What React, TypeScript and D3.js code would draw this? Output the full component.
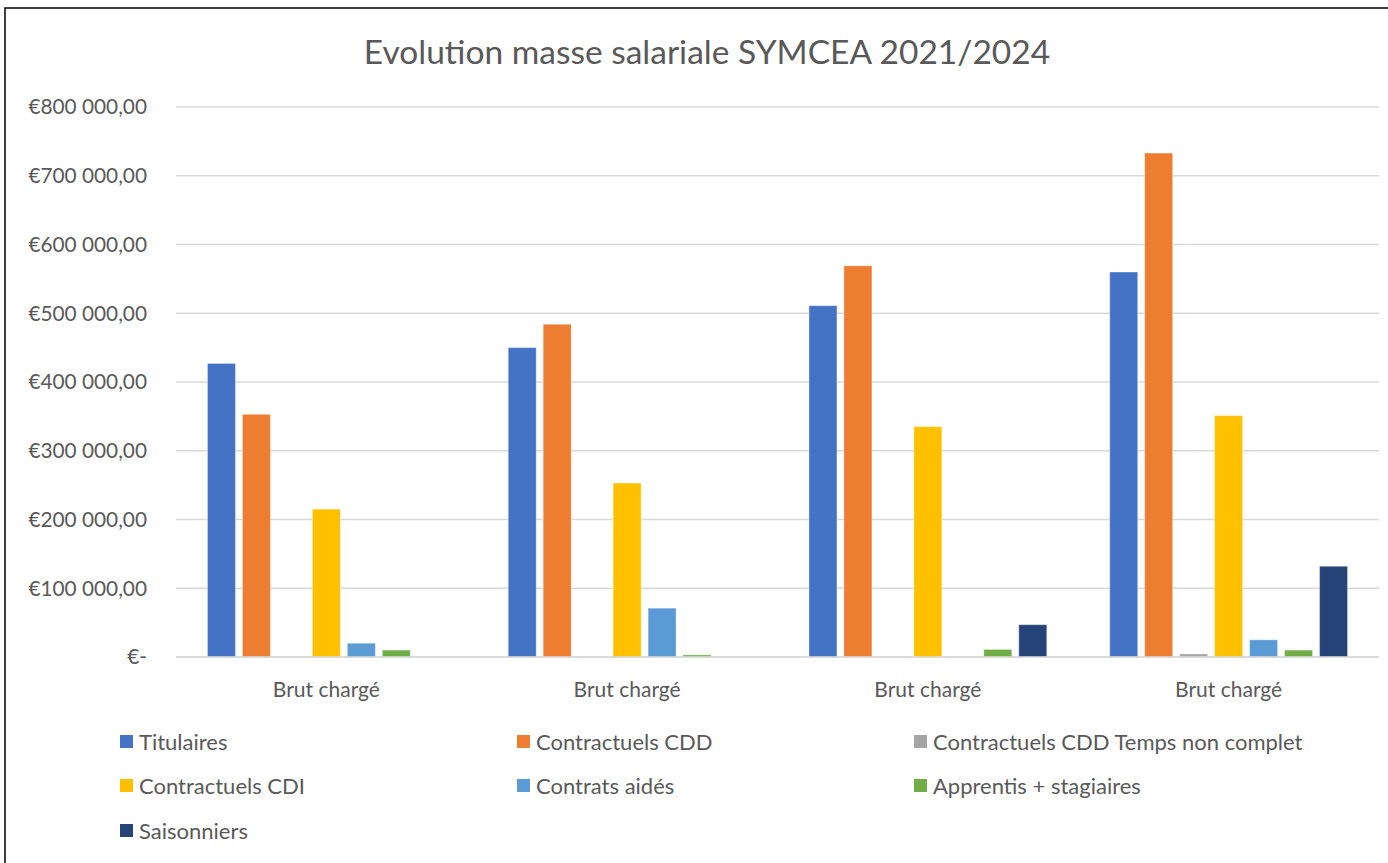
import * as d3 from "d3";
import React from "react";

const categories = ["Brut chargé", "Brut chargé", "Brut chargé", "Brut chargé"];
const seriesNames = [
  "Titulaires",
  "Contractuels CDD",
  "Contractuels CDD Temps non complet",
  "Contractuels CDI",
  "Contrats aidés",
  "Apprentis + stagiaires",
  "Saisonniers",
];
const colors = ["#4472C4", "#ED7D31", "#A5A5A5", "#FFC000", "#5B9BD5", "#70AD47", "#264478"];

// one array per series, one value per category
const titulaires = [427000, 450000, 511000, 560000];
const contractuelsCDD = [353000, 484000, 569000, 733000];
const cddTempsNonComplet = [0, 0, 0, 4500];
const contractuelsCDI = [215000, 253000, 335000, 351000];
const contratsAides = [20000, 71000, 0, 25000];
const apprentis = [10000, 3000, 11000, 10000];
const saisonniers = [0, 0, 47000, 132000];

const seriesValues = [
  titulaires,
  contractuelsCDD,
  cddTempsNonComplet,
  contractuelsCDI,
  contratsAides,
  apprentis,
  saisonniers,
];

const yTicks = [0, 100000, 200000, 300000, 400000, 500000, 600000, 700000, 800000];

const W = 1388;
const H = 863;
const left = 176;
const right = 1379;
const top = 107;
const bottom = 657;
const textColor = "#595959";
const font = "Lato, 'Open Sans', sans-serif";

function fmt(v: number) {
  if (v === 0) return "€-";
  const s = d3.format(",.2f")(v).replace(/,/g, " ").replace(".", ",");
  return "€" + s;
}

export default function App() {
  const x0 = d3.scaleBand<number>().domain(categories.map((_, i) => i)).range([left, right]);
  const x1 = d3
    .scaleBand<number>()
    .domain(seriesNames.map((_, i) => i))
    .range([0, x0.bandwidth()])
    .paddingInner(0.2)
    .paddingOuter(0.9);
  const y = d3.scaleLinear().domain([0, 800000]).range([bottom, top]);

  const legendCols = [120, 517, 914];
  const legendRows = [742, 786, 831];

  return (
    <svg width={W} height={H} style={{ position: "absolute", left: 0, top: 0, background: "#fff" }}>
      <rect x={5} y={8} width={W + 10} height={H + 10} fill="#fff" stroke="#000" strokeWidth={1.5} />
      <text x={707} y={64} textAnchor="middle" fontFamily={font} fontSize={33.5} fill={textColor}>
        Evolution masse salariale SYMCEA 2021/2024
      </text>
      {yTicks.map((t) => (
        <g key={t}>
          <line x1={left} x2={right} y1={y(t)} y2={y(t)} stroke="#D9D9D9" strokeWidth={1.5} />
          <text
            x={147}
            y={y(t)}
            dy="0.35em"
            textAnchor="end"
            fontFamily={font}
            fontSize={20.8}
            fill={textColor}
          >
            {fmt(t)}
          </text>
        </g>
      ))}
      {categories.map((c, ci) => (
        <g key={ci}>
          {seriesValues.map((vals, si) => {
            const v = vals[ci];
            if (!v) return null;
            const bx = (x0(ci) as number) + (x1(si) as number);
            return (
              <rect
                key={si}
                x={bx}
                y={y(v)}
                width={x1.bandwidth()}
                height={bottom - y(v)}
                fill={colors[si]}
                stroke="#fff"
                strokeOpacity={0.35}
                strokeWidth={1}
              />
            );
          })}
          <text
            x={(x0(ci) as number) + x0.bandwidth() / 2}
            y={697}
            textAnchor="middle"
            fontFamily={font}
            fontSize={21}
            fill={textColor}
          >
            {c}
          </text>
        </g>
      ))}
      <line x1={left} x2={right} y1={bottom} y2={bottom} stroke="#D9D9D9" strokeWidth={1.5} />
      {seriesNames.map((name, i) => {
        const lx = legendCols[i % 3];
        const ly = legendRows[Math.floor(i / 3)];
        return (
          <g key={name}>
            <rect x={lx} y={ly - 7} width={13} height={13} fill={colors[i]} />
            <text x={lx + 19} y={ly} dy="0.35em" fontFamily={font} fontSize={22} fill={textColor}>
              {name}
            </text>
          </g>
        );
      })}
    </svg>
  );
}
